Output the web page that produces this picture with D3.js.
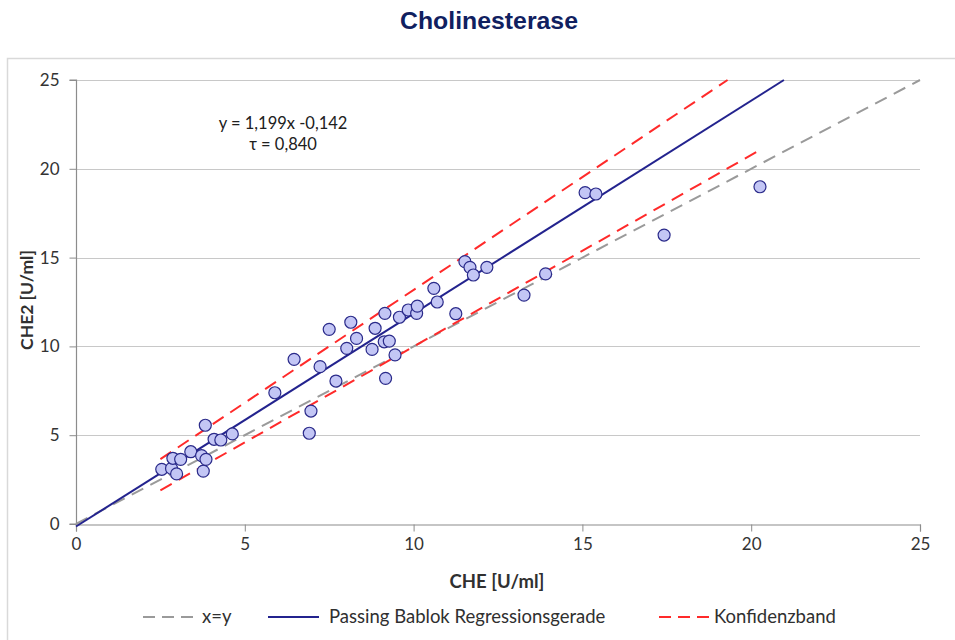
<!DOCTYPE html>
<html><head><meta charset="utf-8">
<script src="https://cdn.jsdelivr.net/npm/d3@7"></script>
<style>body{margin:0;background:#fff}svg{display:block}</style>
</head><body>
<svg id="c" width="955" height="640"></svg>
<script>
// ---- data ----
const cheX = [2.54,2.83,2.87,2.98,3.10,3.40,3.72,3.77,3.83,3.85,4.09,4.29,4.63,
  5.89,6.46,6.91,6.96,7.23,7.50,7.70,8.02,8.14,8.31,8.77,8.86,9.13,9.15,9.17,9.28,9.45,9.58,9.84,
  10.09,10.11,10.60,10.70,11.25,11.52,11.67,11.77,12.17,13.27,13.91,15.08,15.40,17.42,20.26];
const che2Y = [3.08,3.13,3.70,2.82,3.64,4.07,3.85,2.98,5.56,3.64,4.77,4.73,5.07,
  7.39,9.27,5.11,6.36,8.86,10.96,8.05,9.89,11.36,10.45,9.83,11.02,10.26,11.86,8.20,10.30,9.52,11.64,12.05,
  11.86,12.27,13.27,12.50,11.84,14.77,14.45,14.02,14.45,12.89,14.08,18.66,18.58,16.27,18.99];
const identX = [0, 25], identY = [0, 25];
const slope = 1.199, intercept = -0.142;
const regX = [0, (25 - intercept) / slope];
const upperBandX = [2.5, 19.3], upperBandY = [3.65, 25];
const lowerBandX = [2.5, 20.3], lowerBandY = [1.9, 21.1];
const xTicks = [0,5,10,15,20,25], yTicks = [0,5,10,15,20,25];
const title = "Cholinesterase";
const xLabel = "CHE  [U/ml]", yLabel = "CHE2 [U/ml]";
const eqLines = ["y = 1,199x -0,142", "τ = 0,840"];
const legendItems = [
  {label:"x=y", color:"#9a9a9a", dash:"12,7"},
  {label:"Passing Bablok Regressionsgerade", color:"#23238e", dash:null},
  {label:"Konfidenzband", color:"#ff2a2a", dash:"12,7"}
];

// ---- chart ----
const svg = d3.select("#c");
const F = "Lato, 'Open Sans', sans-serif";
const x = d3.scaleLinear().domain([0,25]).range([76,920]);
const y = d3.scaleLinear().domain([0,25]).range([524,80]);

svg.append("rect").attr("x",7.5).attr("y",58.5).attr("width",960).attr("height",600)
  .attr("fill","#fff").attr("stroke","#d9d9d9").attr("stroke-width",1.5);

svg.append("text").attr("x",489).attr("y",29).attr("text-anchor","middle")
  .attr("font-family","'Liberation Sans Narrow','Arial Narrow','Liberation Sans',Arial,sans-serif")
  .attr("font-weight","bold").attr("font-size",24).attr("fill","#102060")
  .attr("textLength",178).attr("lengthAdjust","spacingAndGlyphs").text(title);

// gridlines
svg.append("g").selectAll("line").data(yTicks.filter(d=>d>0)).join("line")
  .attr("x1",x(0)).attr("x2",x(25)).attr("y1",d=>Math.round(y(d))+0.5).attr("y2",d=>Math.round(y(d))+0.5)
  .attr("stroke","#c8c8c8").attr("stroke-width",1);

// axes
const yAxis = d3.axisLeft(y).tickValues(yTicks).tickSize(7).tickPadding(10).tickFormat(d3.format("d"));
const xAxis = d3.axisBottom(x).tickValues(xTicks).tickSize(7).tickPadding(6).tickFormat(d3.format("d"));
const gy = svg.append("g").attr("transform",`translate(${x(0)+0.5},0)`).call(yAxis);
const gx = svg.append("g").attr("transform",`translate(0,${y(0)+0.5})`).call(xAxis);
[gx,gy].forEach(g=>{
  g.select(".domain").attr("stroke","#8c8c8c").attr("stroke-width",1.2);
  g.selectAll(".tick line").attr("stroke","#8c8c8c");
  g.selectAll(".tick text").attr("font-family",F).attr("font-size",17).attr("fill","#333");
});
gy.select(".domain").attr("d",`M-7,${y(25)}H0V${y(0)}H-7`);

const line = d3.line().x(d=>x(d[0])).y(d=>y(d[1]));
svg.append("path").datum(d3.zip(identX, identY)).attr("d",line)
  .attr("fill","none").attr("stroke","#9a9a9a").attr("stroke-width",2).attr("stroke-dasharray","13,8");
svg.append("path").datum(d3.zip(upperBandX, upperBandY)).attr("d",line)
  .attr("fill","none").attr("stroke","#ff2a2a").attr("stroke-width",2).attr("stroke-dasharray","13,8");
svg.append("path").datum(d3.zip(lowerBandX, lowerBandY)).attr("d",line)
  .attr("fill","none").attr("stroke","#ff2a2a").attr("stroke-width",2).attr("stroke-dasharray","13,8");
svg.append("path").datum(regX.map(v=>[v, slope*v+intercept])).attr("d",line)
  .attr("fill","none").attr("stroke","#23238e").attr("stroke-width",2);

svg.append("g").selectAll("circle").data(d3.zip(cheX, che2Y)).join("circle")
  .attr("cx",d=>x(d[0])).attr("cy",d=>y(d[1])).attr("r",6)
  .attr("fill","#c3c6f5").attr("stroke","#2a2a8a").attr("stroke-width",1.2);

// equation
svg.append("g").selectAll("text").data(eqLines).join("text")
  .attr("x",283).attr("y",(d,i)=>129+i*21).attr("text-anchor","middle")
  .attr("font-family",F).attr("font-size",16.5).attr("fill","#202020").text(d=>d);

// axis titles
svg.append("text").attr("x",497).attr("y",588).attr("text-anchor","middle")
  .attr("font-family",F).attr("font-weight","bold").attr("font-size",18.5).attr("fill","#303030").text(xLabel);
svg.append("text").attr("transform","translate(33,300) rotate(-90)").attr("text-anchor","middle")
  .attr("font-family",F).attr("font-weight","bold").attr("font-size",17.5).attr("fill","#303030").text(yLabel);

// legend
const legX = [143, 268, 659];
const lg = svg.append("g").selectAll("g").data(legendItems).join("g")
  .attr("transform",(d,i)=>`translate(${legX[i]},617)`);
lg.append("line").attr("x1",0).attr("x2",51).attr("y1",0).attr("y2",0)
  .attr("stroke",d=>d.color).attr("stroke-width",2).attr("stroke-dasharray",d=>d.dash);
lg.append("text").attr("x",(d,i)=>i===0?59:i===1?61:55).attr("y",6)
  .attr("font-family",F).attr("font-size",18.5).attr("fill","#303030").text(d=>d.label);
</script>
</body></html>
